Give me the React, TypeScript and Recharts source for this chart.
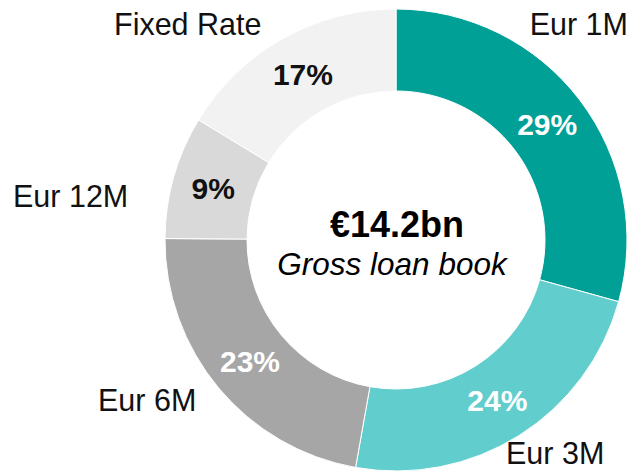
import React from 'react';
import { PieChart, Pie, Cell } from 'recharts';

const categories = ['Eur 1M', 'Eur 3M', 'Eur 6M', 'Eur 12M', 'Fixed Rate'];
// slice shares as drawn (the printed labels are rounded)
const shares = [29.3, 23.5, 22.3, 8.6, 16.3];
const pctLabels = ['29%', '24%', '23%', '9%', '17%'];

const totalValue = '€14.2bn';
const totalCaption = 'Gross loan book';

const COLORS = ['#00A096', '#62CDCD', '#A6A6A6', '#D9D9D9', '#F2F2F2'];
const PCT_COLORS = ['#ffffff', '#ffffff', '#ffffff', '#111111', '#111111'];

// where each category name sits, relative to the pie centre
const NAME_POS = [
  { dx: 232, dy: -205, anchor: 'end' },
  { dx: 110, dy: 224, anchor: 'start' },
  { dx: -298, dy: 171, anchor: 'start' },
  { dx: -383, dy: -33, anchor: 'start' },
  { dx: -282, dy: -205, anchor: 'start' },
];

const data = categories.map((name, i) => ({ name, value: shares[i], label: pctLabels[i] }));

const FONT = '"Liberation Sans", Arial, sans-serif';
const RAD = Math.PI / 180;

const renderLabel = (props: any) => {
  const { cx, cy, midAngle, innerRadius, outerRadius, index } = props;
  const r = (innerRadius + outerRadius) / 2;
  const x = cx + r * Math.cos(-midAngle * RAD);
  const y = cy + r * Math.sin(-midAngle * RAD);
  const pos = NAME_POS[index];
  return (
    <g key={`lbl-${index}`}>
      <text
        x={x}
        y={y}
        textAnchor="middle"
        dominantBaseline="central"
        fill={PCT_COLORS[index]}
        fontFamily={FONT}
        fontWeight="bold"
        fontSize={30}
      >
        {data[index].label}
      </text>
      <text
        x={cx + pos.dx}
        y={cy + pos.dy}
        textAnchor={pos.anchor}
        fill="#111111"
        fontFamily={FONT}
        fontSize={30.5}
      >
        {data[index].name}
      </text>
    </g>
  );
};

const App = () => {
  const cx = 396;
  const cy = 240;
  return (
    <div style={{ position: 'absolute', left: 0, top: 0, width: 635, height: 471, background: '#fff' }}>
      <PieChart width={635} height={471} margin={{ top: 0, right: 0, bottom: 0, left: 0 }}>
        <Pie
          data={data}
          dataKey="value"
          nameKey="name"
          cx={cx}
          cy={cy}
          innerRadius={149}
          outerRadius={231}
          startAngle={90}
          endAngle={-270}
          stroke="#ffffff"
          strokeWidth={1}
          label={renderLabel}
          labelLine={false}
          isAnimationActive={false}
        >
          {data.map((d, i) => (
            <Cell key={d.name} fill={COLORS[i]} />
          ))}
        </Pie>
        <text
          x={cx + 1}
          y={237}
          textAnchor="middle"
          fill="#000"
          fontFamily={FONT}
          fontWeight="bold"
          fontSize={36}
        >
          {totalValue}
        </text>
        <text
          x={cx - 4}
          y={275}
          textAnchor="middle"
          fill="#000"
          fontFamily={FONT}
          fontStyle="italic"
          fontSize={31.5}
        >
          {totalCaption}
        </text>
      </PieChart>
    </div>
  );
};

export default App;
